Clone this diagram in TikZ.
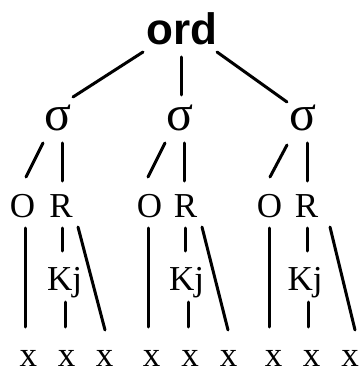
\documentclass[tikz,border=0pt]{standalone}
\usepackage{fontspec}
\setmainfont{Liberation Serif}
\newfontfamily\ordfont{Liberation Sans}
\begin{document}
\begin{tikzpicture}[x=1pt,y=-1pt,
  lbl/.style={inner sep=0pt,outer sep=0pt},
  ordlbl/.style={lbl,font=\ordfont\bfseries\fontsize{44}{44}\selectfont},
  siglbl/.style={lbl,font=\fontsize{50}{50}\selectfont},
  txtlbl/.style={lbl,font=\fontsize{35}{35}\selectfont},
  ln/.style={line width=3pt,line cap=round}]
\useasboundingbox (0,0) rectangle (359,371);
% nodes
\node[ordlbl] (ord) at (182,28.5) {ord};
\node[siglbl] (s1) at (58,117.5) {σ};
\node[siglbl] (s2) at (180,117.5) {σ};
\node[siglbl] (s3) at (302.5,117.5) {σ};
\node[txtlbl] (O1) at (22.5,206) {O};
\node[txtlbl] (R1) at (61,206) {R};
\node[txtlbl] (O2) at (149.5,206) {O};
\node[txtlbl] (R2) at (185.5,206) {R};
\node[txtlbl] (O3) at (269.5,206) {O};
\node[txtlbl] (R3) at (306.5,206) {R};
\node[txtlbl] (K1) at (64.5,283) {Kj};
\node[txtlbl] (K2) at (186.5,283) {Kj};
\node[txtlbl] (K3) at (305,283) {Kj};
\node[txtlbl] (x1) at (28.5,358.5) {x};
\node[txtlbl] (x2) at (66.5,358.5) {x};
\node[txtlbl] (x3) at (104.5,358.5) {x};
\node[txtlbl] (x4) at (151.5,358.5) {x};
\node[txtlbl] (x5) at (190,358.5) {x};
\node[txtlbl] (x6) at (228.5,358.5) {x};
\node[txtlbl] (x7) at (273.5,358.5) {x};
\node[txtlbl] (x8) at (311.5,358.5) {x};
\node[txtlbl] (x9) at (350,358.5) {x};
% top connectors
\draw[ln] ([shift={(-39,23.5)}]ord.center) -- ([shift={(15,-20.5)}]s1.center);
\draw[ln] ([shift={(-1,28.5)}]ord.center) -- ([shift={(1,-22.5)}]s2.center);
\draw[ln] ([shift={(35,23.5)}]ord.center) -- ([shift={(-15.5,-15.5)}]s3.center);
% group 1
\draw[ln] ([shift={(-15,25.5)}]s1.center) -- ([shift={(3.5,-29)}]O1.center);
\draw[ln] ([shift={(4,25.5)}]s1.center) -- ([shift={(1,-25)}]R1.center);
\draw[ln] ([shift={(2.5,22)}]O1.center) -- ([shift={(-3.5,-31.5)}]x1.center);
\draw[ln] ([shift={(1,22)}]R1.center) -- ([shift={(-2.5,-32)}]K1.center);
\draw[ln] ([shift={(0.5,19)}]K1.center) -- ([shift={(-1.5,-31.5)}]x2.center);
\draw[ln] ([shift={(17,21)}]R1.center) -- ([shift={(0.5,-28.5)}]x3.center);
% group 2
\draw[ln] ([shift={(-15,25.5)}]s2.center) -- ([shift={(-1.5,-29)}]O2.center);
\draw[ln] ([shift={(4,25.5)}]s2.center) -- ([shift={(-1.5,-25)}]R2.center);
\draw[ln] ([shift={(-1.5,22)}]O2.center) -- ([shift={(-3.5,-31.5)}]x4.center);
\draw[ln] ([shift={(-0.5,22)}]R2.center) -- ([shift={(-1.5,-32)}]K2.center);
\draw[ln] ([shift={(1.5,19)}]K2.center) -- ([shift={(-2,-31.5)}]x5.center);
\draw[ln] ([shift={(16.5,21)}]R2.center) -- ([shift={(-0.5,-28.5)}]x6.center);
% group 3
\draw[ln] ([shift={(-15.5,27.5)}]s3.center) -- ([shift={(0.5,-29)}]O3.center);
\draw[ln] ([shift={(4.5,25.5)}]s3.center) -- ([shift={(0.5,-25)}]R3.center);
\draw[ln] ([shift={(-0.5,22)}]O3.center) -- ([shift={(-4.5,-31.5)}]x7.center);
\draw[ln] ([shift={(0.5,22)}]R3.center) -- ([shift={(2,-32)}]K3.center);
\draw[ln] ([shift={(3,19)}]K3.center) -- ([shift={(-3.5,-31.5)}]x8.center);
\draw[ln] ([shift={(23.5,21)}]R3.center) -- ([shift={(5,-28.5)}]x9.center);
\end{tikzpicture}
\end{document}
